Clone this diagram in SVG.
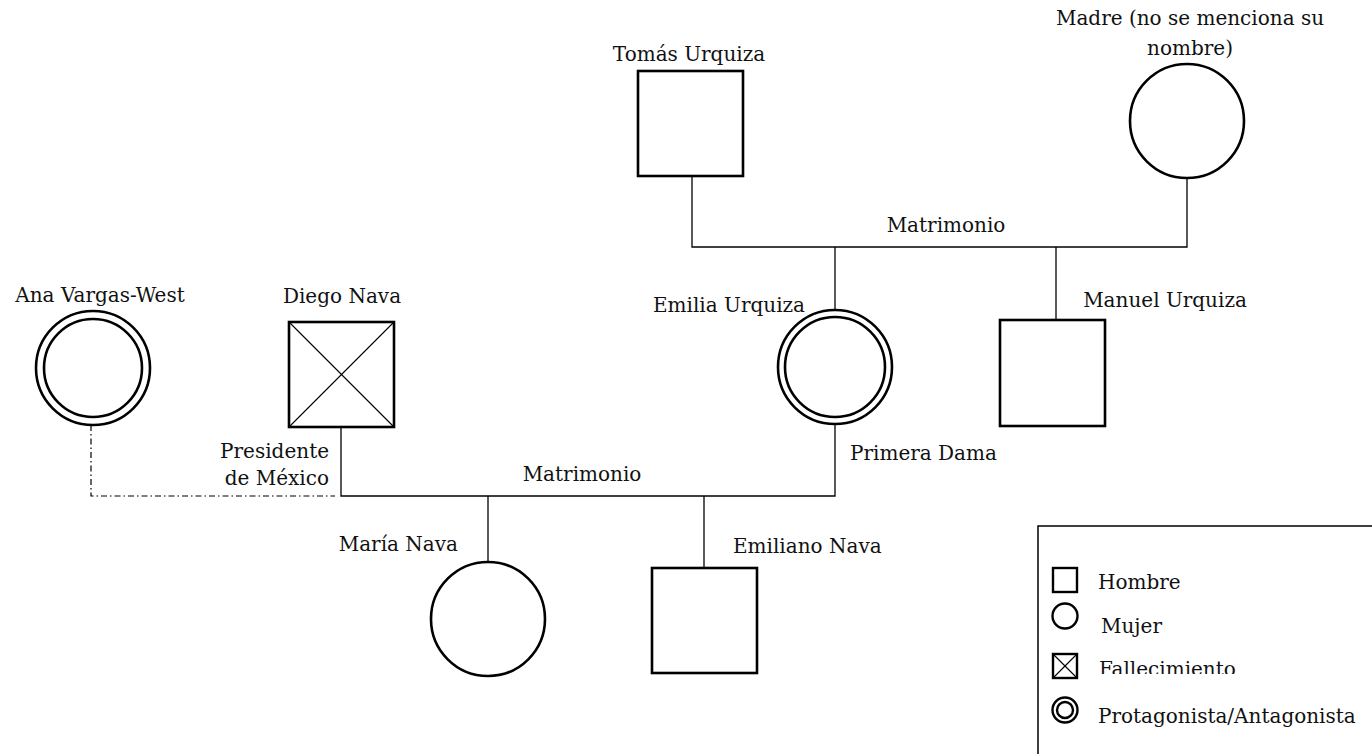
<svg xmlns="http://www.w3.org/2000/svg" width="1372" height="754" viewBox="0 0 1372 754">
<style>
text{font-family:"DejaVu Serif","Liberation Serif",serif;font-size:20px;fill:#111}
.m{text-anchor:middle}.e{text-anchor:end}
.sh{fill:#fff;stroke:#000;stroke-width:2.6}
.ln{fill:none;stroke:#000;stroke-width:1.3}
.x{stroke:#000;stroke-width:1.1}
.dd{fill:none;stroke:#000;stroke-width:1.2;stroke-dasharray:6 3 1.5 3}
.li{fill:#fff;stroke:#000;stroke-width:2.4}
</style>
<defs><clipPath id="cf"><rect x="1090" y="640" width="200" height="34"/></clipPath></defs>
<rect width="1372" height="754" fill="#fff"/>
<g id="connectors">
<polyline class="ln" points="692,176 692,247 1187,247 1187,179"/>
<line class="ln" x1="835" y1="247" x2="835" y2="310"/>
<line class="ln" x1="1056" y1="247" x2="1056" y2="320"/>
<polyline class="ln" points="341,427 341,496 835,496 835,425"/>
<line class="ln" x1="488" y1="496" x2="488" y2="562"/>
<line class="ln" x1="704" y1="496" x2="704" y2="568"/>
<polyline class="dd" points="91,425 91,496 335,496"/>
<text class="m" x="946" y="232">Matrimonio</text>
<text class="m" x="582" y="481">Matrimonio</text>
</g>
<g id="tomas"><rect class="sh" x="638" y="71" width="105" height="105"/><text class="m" x="689" y="61">Tomás Urquiza</text></g>
<g id="madre"><circle class="sh" cx="1187" cy="121" r="57"/><text class="m" x="1190" y="25">Madre (no se menciona su</text><text class="m" x="1190" y="55">nombre)</text></g>
<g id="emilia"><circle class="sh" cx="835" cy="367" r="57"/><circle class="sh" cx="835" cy="367" r="50"/><text class="m" x="729" y="312">Emilia Urquiza</text><text x="850" y="460">Primera Dama</text></g>
<g id="manuel"><rect class="sh" x="1000" y="320" width="105" height="106"/><text class="m" x="1165" y="307">Manuel Urquiza</text></g>
<g id="diego"><rect class="sh" x="289" y="322" width="105" height="105"/><line class="x" x1="289" y1="322" x2="394" y2="427"/><line class="x" x1="394" y1="322" x2="289" y2="427"/><text class="m" x="342" y="303">Diego Nava</text><text class="e" x="329" y="458">Presidente</text><text class="e" x="329" y="485">de México</text></g>
<g id="ana"><circle class="sh" cx="93" cy="368" r="57"/><circle class="sh" cx="93" cy="368" r="49"/><text class="m" x="100" y="302">Ana Vargas-West</text></g>
<g id="maria"><circle class="sh" cx="488" cy="619" r="57"/><text class="e" x="458" y="551">María Nava</text></g>
<g id="emiliano"><rect class="sh" x="652" y="568" width="105" height="105"/><text x="733" y="553">Emiliano Nava</text></g>
<g id="legend">
<rect x="1038" y="526" width="345" height="240" fill="#fff" stroke="#000" stroke-width="1.5"/>
<rect class="li" x="1053" y="568" width="24" height="24"/>
<text x="1098" y="589">Hombre</text>
<circle class="li" cx="1065" cy="616" r="12.5"/>
<text x="1101" y="633">Mujer</text>
<rect class="li" x="1053" y="654" width="24" height="24"/>
<line class="x" x1="1053" y1="654" x2="1077" y2="678"/><line class="x" x1="1077" y1="654" x2="1053" y2="678"/>
<text x="1099" y="676" clip-path="url(#cf)">Fallecimiento</text>
<circle class="li" cx="1065" cy="710" r="12.5"/>
<circle class="li" cx="1065" cy="710" r="8"/>
<text x="1098" y="723">Protagonista/Antagonista</text>
</g>
</svg>
